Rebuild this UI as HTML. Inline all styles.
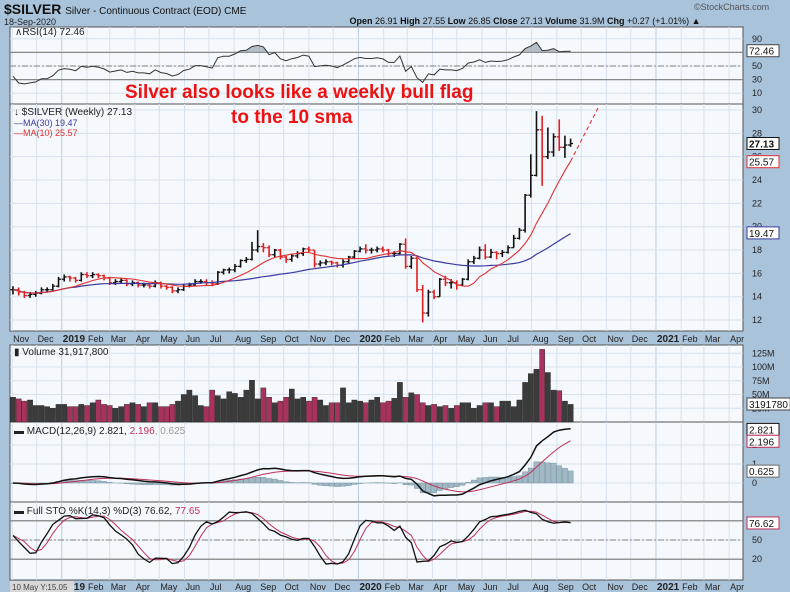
<!DOCTYPE html>
<html><head><meta charset="utf-8"><style>
html,body{margin:0;padding:0;background:#a9c3db;}
svg{display:block;font-family:"Liberation Sans",Arial,sans-serif;}
</style></head><body>
<svg id="c" width="790" height="592" viewBox="0 0 790 592" xmlns="http://www.w3.org/2000/svg">
<text x="4" y="14" font-size="14" font-weight="bold" fill="#111">$SILVER <tspan font-size="10" font-weight="normal">Silver - Continuous Contract (EOD) CME</tspan></text>
<text x="4" y="25" font-size="9" fill="#222">18-Sep-2020</text>
<text x="694" y="10" font-size="9" fill="#555">©StockCharts.com</text>
<text x="525" y="24" font-size="9" fill="#111" text-anchor="middle"><tspan font-weight="bold">Open</tspan> 26.91 <tspan font-weight="bold">High</tspan> 27.55 <tspan font-weight="bold">Low</tspan> 26.85 <tspan font-weight="bold">Close</tspan> 27.13 <tspan font-weight="bold">Volume</tspan> 31.9M <tspan font-weight="bold">Chg</tspan> +0.27 (+1.01%) ▲</text>
<g id="g"></g>
<text x="125" y="98" font-size="19" font-weight="bold" fill="#ee1111">Silver also looks like a weekly bull flag</text>
<text x="231" y="123" font-size="19" font-weight="bold" fill="#ee1111">to the 10 sma</text>
</svg>
<script>
const closes=[14.6,14.4,14.1,14.2,14.3,14.6,14.6,14.9,15.5,15.7,15.6,15.4,15.9,15.8,15.9,15.8,15.6,15.2,15.3,15.4,15.1,15.2,15.0,15.0,14.9,15.2,14.9,14.8,14.5,14.6,14.9,15.0,15.3,15.3,15.2,15.1,16.1,16.3,16.3,16.6,17.1,17.2,18.0,18.3,18.2,17.6,18.0,17.4,17.2,17.5,17.7,18.1,18.0,16.8,16.9,17.0,16.9,16.7,17.0,17.4,17.9,
18.1,18.0,18.0,18.1,18.0,17.7,17.7,18.5,16.6,17.3,14.6,12.6,14.4,14.0,15.5,15.2,15.2,15.0,15.5,17.0,17.3,18.0,17.4,17.8,17.7,17.8,18.2,19.0,19.7,22.7,24.4,28.3,26.0,26.4,27.7,26.8,27.0,27.13];
const highs=[14.9,14.8,14.5,14.4,14.5,14.8,14.8,15.1,15.7,15.9,15.8,15.7,16.1,16.1,16.1,16.0,15.9,15.7,15.5,15.6,15.5,15.4,15.3,15.2,15.1,15.4,15.3,15.0,14.9,14.8,15.1,15.2,15.5,15.5,15.5,15.4,16.2,16.4,16.5,16.8,17.2,17.4,18.7,19.7,18.6,18.4,18.1,18.1,17.5,17.7,17.9,18.2,18.3,18.0,17.1,17.2,17.1,17.0,17.2,17.5,18.0,
18.3,18.5,18.2,18.3,18.3,18.1,17.9,18.6,19.0,17.5,17.4,15.0,14.6,14.6,15.6,15.8,15.5,15.4,15.6,17.2,17.5,18.3,18.5,18.1,17.9,18.0,18.4,19.3,19.9,22.8,26.2,29.9,29.5,28.5,28.0,29.2,27.8,27.55];
const lows=[14.2,14.1,13.9,13.9,14.0,14.2,14.4,14.5,14.8,15.3,15.3,15.2,15.3,15.6,15.6,15.6,15.4,15.0,15.0,15.1,14.9,14.9,14.8,14.8,14.7,14.8,14.7,14.6,14.3,14.3,14.5,14.8,14.9,15.1,15.0,14.9,15.0,15.9,16.0,16.1,16.5,16.9,17.1,17.8,17.8,17.4,17.4,17.2,16.9,17.0,17.3,17.5,17.8,16.5,16.6,16.7,16.7,16.5,16.5,16.8,17.2,
17.8,17.7,17.7,17.8,17.8,17.5,17.4,17.6,16.4,16.4,14.4,11.8,12.3,13.8,14.0,14.9,14.7,14.6,14.9,15.4,16.8,17.2,17.2,17.3,17.2,17.4,17.7,18.2,18.9,19.5,22.5,24.3,23.5,25.8,26.0,26.5,25.9,26.85];
const volumes=[45,42,38,40,30,30,28,25,32,32,28,28,32,30,35,40,32,30,25,28,32,35,32,28,35,35,28,28,32,38,50,58,48,30,28,58,48,42,55,52,45,58,76,42,62,45,35,38,45,60,42,45,38,45,40,30,35,35,62,35,40,38,35,40,45,35,38,43,72,45,53,50,35,30,32,28,30,25,30,35,35,25,30,35,35,28,38,38,28,40,72,88,96,132,90,58,57,38,32];
const priceTicks=[12,14,16,18,20,22,24,26,28,30];
const rsiTicks=[10,30,50,70,90];
const volTicks=[25,50,75,100,125];
const macdTicks=[0,1,2];
const stoTicks=[20,50,80];
const monthNames=['Jan','Feb','Mar','Apr','May','Jun','Jul','Aug','Sep','Oct','Nov','Dec'];

const NS='http://www.w3.org/2000/svg';
const G=document.getElementById('g');
function el(t,a,p){const e=document.createElementNS(NS,t);for(const k in a)e.setAttribute(k,a[k]);(p||G).appendChild(e);return e;}
const L=10,R=743;
const X=i=>13+i*5.69;
const t0=Date.UTC(2018,10,2);
const XD=d=>13+(d-t0)/(7*864e5)*5.69;
const panels={rsi:[27,104],price:[104,331],vol:[345,422],macd:[422,502],sto:[502,580]};
const Yp=v=>110+(30-v)*11.67;
const Yr=v=>66-(v-50)*0.68;
const Yv=v=>422-v*0.55;
const Ym=v=>483-v*19;
const Ys=v=>540-(v-50)*0.64;

const N=closes.length;
function sma(n){return closes.map((c,i)=>{const s=closes.slice(Math.max(0,i-n+1),i+1);return s.reduce((a,b)=>a+b,0)/s.length;});}
function ema(arr,n){const k=2/(n+1);let o=[],p=arr[0];arr.forEach((v,i)=>{p=i?v*k+p*(1-k):v;o.push(p);});return o;}
const ma10=sma(10),ma30=sma(30);
let rsi=[],ag=0,al=0;
for(let i=0;i<N;i++){if(i==0){rsi.push(35);continue;}const d=closes[i]-closes[i-1];const g=Math.max(d,0),l=Math.max(-d,0);if(i==1){ag=g+0.1;al=l+0.1;}else{ag=(ag*13+g)/14;al=(al*13+l)/14;}rsi.push(100-100/(1+ag/al));}
const e12=ema(closes,12),e26=ema(closes,26);
const macd=closes.map((c,i)=>e12[i]-e26[i]);const sig=ema(macd,9);const hist=macd.map((m,i)=>m-sig[i]);
let fk=[];for(let i=0;i<N;i++){const a=Math.max(0,i-13);const hh=Math.max(...highs.slice(a,i+1)),ll=Math.min(...lows.slice(a,i+1));fk.push(100*(closes[i]-ll)/(hh-ll||1));}
const sk=fk.map((v,i)=>{const s=fk.slice(Math.max(0,i-2),i+1);return s.reduce((a,b)=>a+b,0)/s.length;});
const sd=sk.map((v,i)=>{const s=sk.slice(Math.max(0,i-2),i+1);return s.reduce((a,b)=>a+b,0)/s.length;});

const months=[];for(let y=2018,m=10;y<2021||m<=3;){months.push([y,m]);m++;if(m>11){m=0;y++;}}
for(const k in panels){const [t,b]=panels[k];
 const r=el('rect',{x:L,y:t,width:R-L,height:b-t,fill:'#f5f8fc',stroke:'#555','stroke-width':1});
 
 
 months.forEach(([y,m])=>{const x=XD(Date.UTC(y,m,1));if(x>L&&x<R)el('line',{x1:x,x2:x,y1:t,y2:b,stroke:m==0?'#b9cde0':'#d6e2ee','stroke-width':1});});
}
function hgrid(ticks,Y,t,b,lbl,fmt){ticks.forEach(v=>{const y=Y(v);if(y<t||y>b)return;el('line',{x1:L,x2:R,y1:y,y2:y,stroke:'#d6e2ee'});if(lbl){const tx=el('text',{x:752,y:y+3,'font-size':9,fill:'#222'});tx.textContent=fmt?fmt(v):v;}});}
hgrid(priceTicks,Yp,104,331,true);
hgrid(rsiTicks,Yr,27,104,true);
hgrid(volTicks,Yv,345,422,true,v=>v+'M');
hgrid(macdTicks,Ym,422,502,true);
hgrid(stoTicks,Ys,502,580,true);
[[Yr(70),'#888',''],[Yr(30),'#888',''],[Yr(50),'#999','6,2,2,2'],[Ys(80),'#777',''],[Ys(20),'#777',''],[Ys(50),'#999','6,2,2,2']].forEach(([y,c,d])=>el('line',{x1:L,x2:R,y1:y,y2:y,stroke:c,'stroke-width':1.2,'stroke-dasharray':d}));

function axis(y0,name){const gA=el('g',{});
 months.forEach(([y,m])=>{const x=XD(Date.UTC(y,m,1));const tx=el('text',{x:x+1,y:y0,'font-size':m==0?10:9,'font-weight':m==0?'bold':'normal',fill:'#222'},gA);tx.textContent=m==0?String(y):monthNames[m];});}
axis(342,'x-axis-top');axis(590,'x-axis-bottom');
el('rect',{x:10,y:581,width:64,height:11,fill:'#d8d8d8'});
const cl=el('text',{x:12,y:590,'font-size':8,fill:'#444'});cl.textContent='10 May Y:15.05';

function line(arr,Y,c,w,name,s){let d='';arr.forEach((v,i)=>{if(i<(s||0))return;d+=(d?'L':'M')+X(i).toFixed(1)+','+Y(v).toFixed(1);});const p=el('path',{d,fill:'none',stroke:c,'stroke-width':w});return p;}

let fillD='';rsi.forEach((v,i)=>{fillD+=(i?'L':'M')+X(i)+','+Math.min(Yr(v),Yr(70));});for(let i=N-1;i>=0;i--)fillD+='L'+X(i)+','+Yr(70);
el('path',{d:fillD,fill:'#9aa7b3',opacity:0.7});
line(rsi,Yr,'#333',1,'rsi-line');

closes.forEach((c,i)=>{const o=i?closes[i-1]:c;const col=c<o?'#e02020':'#111';const x=X(i);
 const b=el('g',{});
 el('line',{x1:x,x2:x,y1:Yp(highs[i]),y2:Yp(lows[i]),stroke:col,'stroke-width':1.6},b);
 el('line',{x1:x-2.5,x2:x,y1:Yp(o),y2:Yp(o),stroke:col,'stroke-width':1.3},b);
 el('line',{x1:x,x2:x+2.5,y1:Yp(c),y2:Yp(c),stroke:col,'stroke-width':1.3},b);});
line(ma30,Yp,'#3a3aa0',1.2,'ma30-line');
line(ma10,Yp,'#e03030',1.1,'ma10-line');
el('line',{x1:X(N-1),y1:Yp(ma10[N-1]),x2:598,y2:108,stroke:'#e03030','stroke-width':1.1,'stroke-dasharray':'4,3'});

volumes.forEach((v,i)=>{const up=i==0||closes[i]>=closes[i-1];const r=el('rect',{x:X(i)-2.6,y:Yv(v),width:5.2,height:422-Yv(v),fill:up?'#3b3b3b':'#a8325e',stroke:'#222','stroke-width':0.4});});

hist.forEach((h,i)=>{const y0=Ym(0),y1=Ym(h);const r=el('rect',{x:X(i)-2.6,y:Math.min(y0,y1),width:5.2,height:Math.abs(y1-y0)||0.5,fill:'#9fb8c4',stroke:'#6d8a98','stroke-width':0.4});});
line(sig,Ym,'#c0305a',1,'macd-signal-line');
line(macd,Ym,'#111',1.5,'macd-line');

line(sd,Ys,'#c0305a',1,'sto-d-line');
line(sk,Ys,'#111',1.3,'sto-k-line');

function txt(x,y,s,c,fs,name,w){const t=el('text',{x,y,'font-size':fs||10,fill:c||'#111','font-weight':w||'normal'});t.textContent=s;return t;}
txt(15,35,'∧RSI(14) 72.46','#222',10,'rsi-legend');
txt(14,115,'↓ $SILVER (Weekly) 27.13','#222',10,'price-legend');
txt(14,126,'—MA(30) 19.47','#3a3aa0',9,'ma30-legend');
txt(14,136,'—MA(10) 25.57','#e03030',9,'ma10-legend');
txt(14,355,'▮ Volume 31,917,800','#222',10,'volume-legend');
const ml=txt(14,434,'▬ MACD(12,26,9) 2.821, ','#222',10,'macd-legend');const ts1=el('tspan',{fill:'#c0305a'},ml);ts1.textContent='2.196';const ts2=el('tspan',{fill:'#999'},ml);ts2.textContent=', 0.625';
const sl=txt(14,514,'▬ Full STO %K(14,3) %D(3) 76.62, ','#222',10,'sto-legend');const ts3=el('tspan',{fill:'#c0305a'},sl);ts3.textContent='77.65';

function box(y,s,c,name,bold){const gb=el('g',{});
 el('rect',{x:747,y:y-6,width:s.length*5.6+4,height:12,fill:'#fff',stroke:c,'stroke-width':1},gb);
 const t=el('text',{x:749,y:y+4,'font-size':10,fill:'#111','font-weight':bold?'bold':'normal'},gb);t.textContent=s;}
box(Yr(72.46),'72.46','#444','rsi-value-box');
box(Yp(27.13),'27.13','#111','close-value-box',true);
box(Yp(25.57),'25.57','#e03030','ma10-value-box');
box(Yp(19.47),'19.47','#3a3aa0','ma30-value-box');
box(404,'3191780','#444','volume-value-box');
box(Ym(2.821),'2.821','#111','macd-value-box');
box(Ym(2.196),'2.196','#c0305a','signal-value-box');
box(Ym(0.625),'0.625','#666','histogram-value-box');
box(Ys(76.62),'76.62','#c0305a','sto-value-box');
</script>
</body></html>
